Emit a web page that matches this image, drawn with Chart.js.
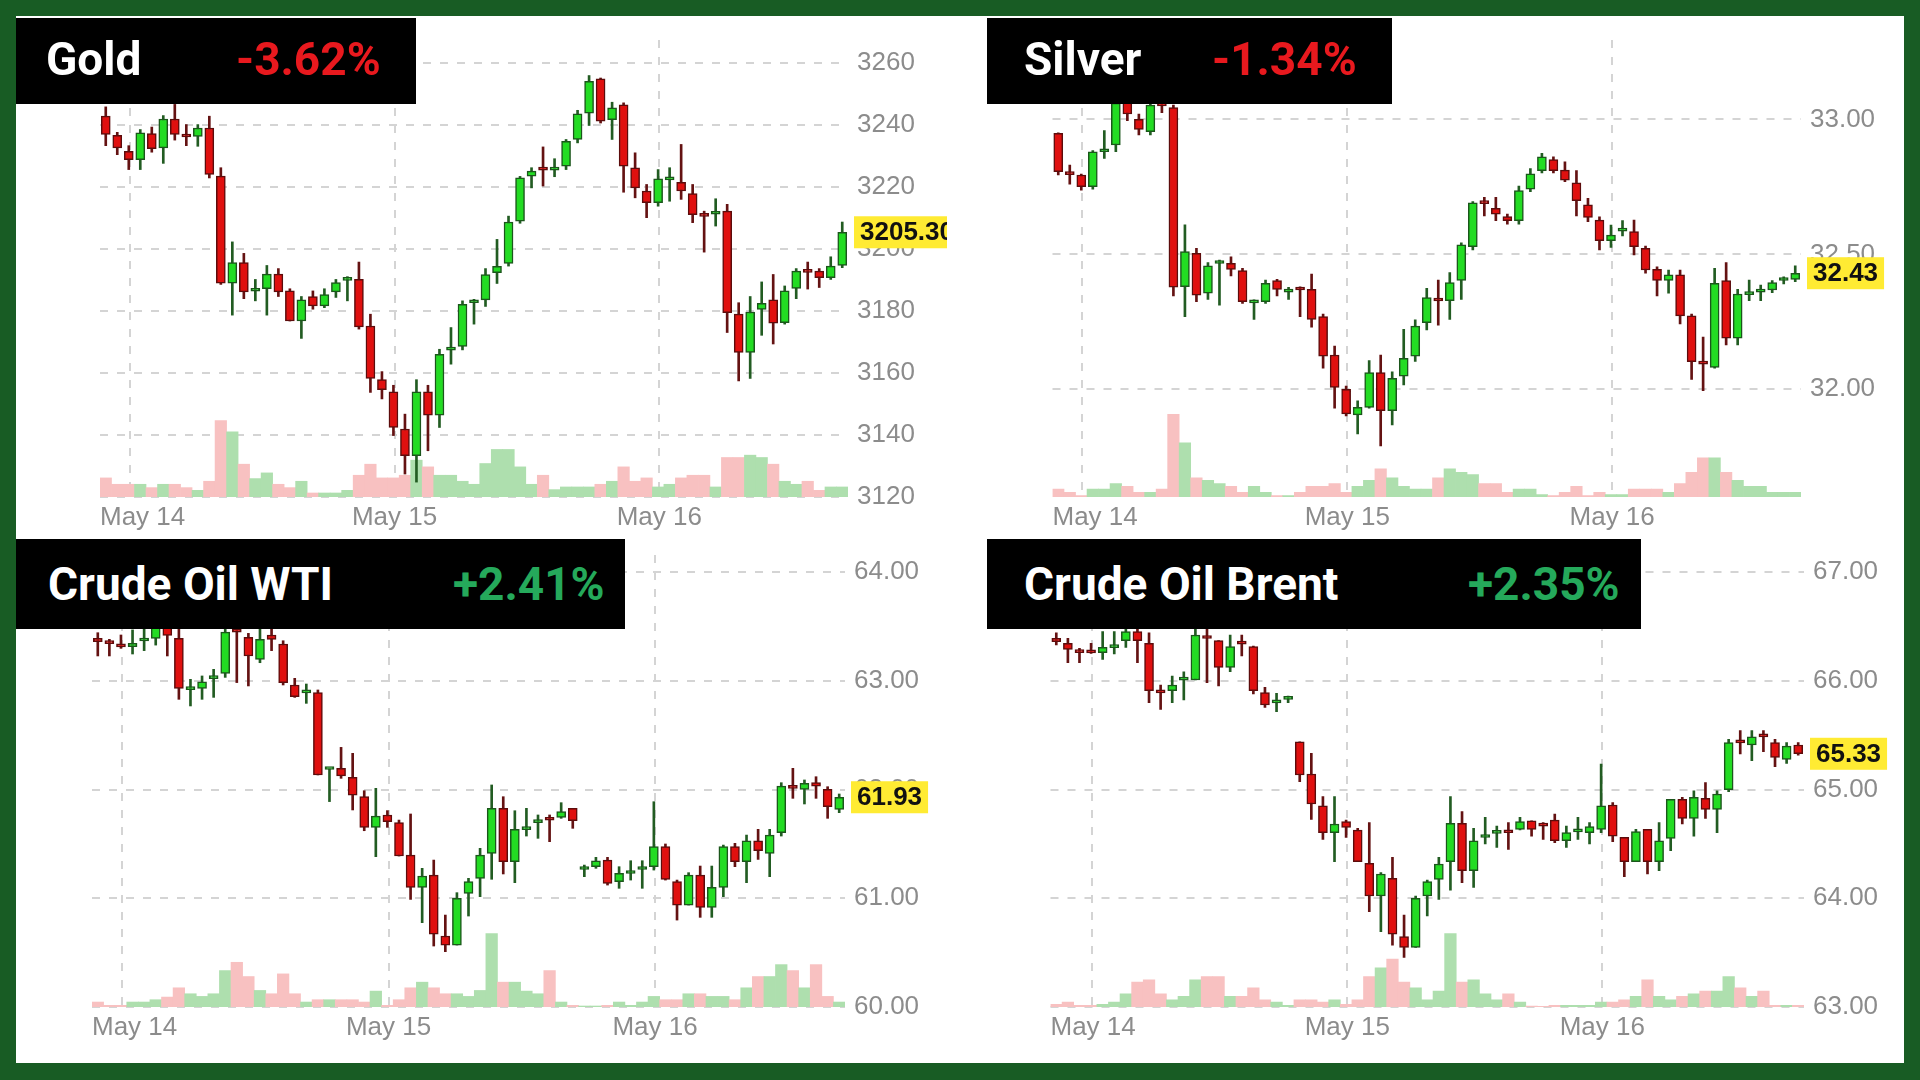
<!DOCTYPE html>
<html>
<head>
<meta charset="utf-8">
<title>Gold, Silver, WTI, Brent - May 14 to May 16</title>
<script src="https://cdn.jsdelivr.net/npm/chart.js@4.4.1/dist/chart.umd.min.js"></script>
<style>
html, body { margin: 0; padding: 0; }
body { position: relative; width: 1920px; height: 1080px; background: #185c24; overflow: hidden; }
#sheet { position: absolute; left: 16px; top: 16px; width: 1888px; height: 1047px; background: #fff; }
canvas { position: absolute; }
.tag { position: absolute; background: #000; }
.tag span { position: absolute; white-space: nowrap; font-family: Roboto, "Noto Sans", sans-serif; font-weight: 700; font-size: 46px; color: #fff; }
.tag .dn { color: #e8191e; }
.tag .up { color: #25a95b; }
</style>
</head>
<body>
<div id="sheet"></div>
<canvas id="goldChart" width="931" height="524" style="left:16px;top:16px"></canvas>
<canvas id="silverChart" width="917" height="524" style="left:987px;top:16px"></canvas>
<canvas id="wtiChart" width="931" height="523" style="left:16px;top:540px"></canvas>
<canvas id="brentChart" width="917" height="523" style="left:987px;top:540px"></canvas>

<div class="tag" style="left:16px;top:18px;width:400px;height:86px">
  <span style="left:30px;top:-2px;line-height:86px">Gold</span>
  <span class="dn" style="left:220px;top:-2px;line-height:86px">-3.62%</span>
</div>
<div class="tag" style="left:987px;top:18px;width:405px;height:86px">
  <span style="left:37px;top:-2px;line-height:86px">Silver</span>
  <span class="dn" style="left:225px;top:-2px;line-height:86px">-1.34%</span>
</div>
<div class="tag" style="left:16px;top:539px;width:609px;height:90px">
  <span style="left:32px;top:0;line-height:90px">Crude Oil WTI</span>
  <span class="up" style="left:437px;top:0;line-height:90px">+2.41%</span>
</div>
<div class="tag" style="left:987px;top:539px;width:654px;height:90px">
  <span style="left:37px;top:0;line-height:90px">Crude Oil Brent</span>
  <span class="up" style="left:481px;top:0;line-height:90px">+2.35%</span>
</div>

<script>
// hourly candles, May 14 - May 16
var dayLabels = ["May 14", "May 15", "May 16"];

var goldOpen = [3242.7,3236.5,3231.4,3228.7,3237.1,3232.5,3241.8,3236.1,3236.2,3238.9,
  3223.4,3188.9,3195.5,3186.3,3187.1,3191.8,3186.4,3176.7,3184.6,3181.6,
  3186.1,3189.8,3190.1,3175.1,3157.8,3153.9,3141.9,3133.3,3153.9,3146.4,
  3167.3,3168.5,3182.6,3183.5,3192.3,3195.3,3208.9,3223.4,3225.7,3225.3,
  3226.6,3235.2,3243.7,3254.7,3241.6,3246.4,3226.1,3218.6,3214.8,3222.2,
  3221.4,3217.8,3210.7,3211.1,3212.1,3178.9,3166.6,3180.4,3183.5,3176.2,
  3187.2,3192.7,3192.8,3190.7,3194.6];
var goldHigh = [3245.7,3237.5,3233.2,3238.4,3239.2,3242.9,3246.5,3240.0,3240.0,3242.7,
  3226.1,3202.2,3198.5,3190.1,3194.6,3193.6,3187.1,3184.6,3186.4,3187.1,
  3190.1,3191.0,3195.7,3178.9,3160.4,3156.0,3146.7,3157.8,3156.0,3167.6,
  3174.6,3183.2,3183.7,3193.6,3203.0,3210.5,3223.3,3226.1,3232.8,3229.0,
  3235.2,3244.6,3255.8,3255.0,3247.2,3247.0,3230.9,3220.7,3225.5,3226.1,
  3233.6,3220.7,3212.1,3216.1,3214.3,3182.6,3184.6,3189.3,3191.7,3188.0,
  3193.6,3195.7,3193.6,3197.4,3208.6];
var goldLow = [3233.2,3230.3,3225.5,3225.5,3231.1,3227.5,3235.0,3233.2,3233.0,3222.8,
  3188.5,3178.6,3183.9,3183.2,3178.6,3184.6,3176.7,3171.1,3180.5,3181.0,
  3184.3,3183.2,3174.1,3153.7,3151.6,3139.8,3127.4,3124.8,3134.9,3142.4,
  3162.8,3167.4,3175.7,3181.4,3188.8,3194.4,3208.2,3219.6,3220.2,3223.2,
  3225.5,3234.1,3239.7,3240.5,3235.2,3218.2,3216.4,3210.0,3213.7,3215.3,
  3215.9,3208.4,3198.9,3207.3,3173.0,3157.4,3158.2,3172.1,3169.3,3175.7,
  3183.9,3187.0,3187.5,3190.1,3193.9];
var goldClose = [3236.8,3232.5,3228.7,3237.3,3232.2,3241.8,3236.8,3236.0,3238.9,3223.9,
  3188.9,3195.5,3186.1,3186.5,3191.8,3186.1,3176.7,3183.5,3181.6,3185.2,
  3189.1,3190.1,3174.8,3158.2,3154.6,3142.4,3133.3,3153.9,3146.4,3166.0,
  3167.7,3182.1,3183.0,3191.7,3194.3,3208.6,3222.8,3225.0,3225.3,3225.7,
  3234.6,3243.5,3253.9,3241.1,3245.4,3226.6,3219.6,3214.8,3222.5,3222.5,
  3218.6,3211.0,3210.4,3211.5,3179.4,3166.6,3179.6,3182.4,3176.0,3186.4,
  3192.8,3192.4,3190.7,3194.4,3205.3];
var goldVolume = [57,38,38,38,28,38,38,28,20,47,
  228,195,98,55,72,38,28,47,12,12,
  12,20,65,98,57,57,65,110,90,65,
  65,47,38,100,142,142,90,38,65,22,
  30,30,30,38,47,90,47,57,30,38,
  57,65,65,30,118,118,125,118,98,47,
  38,47,20,30,30];
var goldTicks = [3120, 3140, 3160, 3180, 3200, 3220, 3240, 3260];
var goldDays = [2.1, 25.1, 48.1];

var silverOpen = [32.948,32.798,32.794,32.751,32.880,32.905,33.080,33.000,32.954,33.055,
  33.044,32.380,32.504,32.356,32.466,32.467,32.440,32.320,32.325,32.403,
  32.360,32.371,32.370,32.269,32.127,32.000,31.905,31.933,32.062,31.921,
  32.049,32.123,32.247,32.330,32.328,32.403,32.528,32.691,32.670,32.640,
  32.625,32.741,32.810,32.851,32.812,32.765,32.683,32.627,32.551,32.586,
  32.584,32.522,32.444,32.403,32.424,32.272,32.096,32.081,32.403,32.189,
  32.351,32.360,32.368,32.403,32.407];
var silverHigh = [32.950,32.831,32.797,32.884,32.958,33.080,33.100,33.020,33.070,33.070,
  33.053,32.609,32.522,32.469,32.479,32.491,32.448,32.331,32.405,32.407,
  32.378,32.380,32.427,32.279,32.160,32.012,31.957,32.106,32.127,32.065,
  32.222,32.257,32.374,32.405,32.432,32.543,32.695,32.711,32.711,32.649,
  32.753,32.818,32.874,32.861,32.843,32.810,32.707,32.639,32.608,32.625,
  32.627,32.531,32.454,32.442,32.442,32.279,32.193,32.448,32.469,32.370,
  32.405,32.386,32.403,32.417,32.457];
var silverLow = [32.794,32.760,32.738,32.741,32.855,32.880,32.995,32.942,32.942,33.025,
  32.346,32.269,32.325,32.333,32.312,32.420,32.318,32.259,32.318,32.346,
  32.333,32.269,32.230,32.078,31.930,31.901,31.835,31.930,31.790,31.868,
  32.016,32.103,32.220,32.238,32.259,32.333,32.516,32.642,32.625,32.612,
  32.612,32.732,32.802,32.802,32.769,32.642,32.621,32.516,32.526,32.568,
  32.498,32.430,32.346,32.356,32.242,32.037,31.995,32.078,32.164,32.164,
  32.328,32.328,32.358,32.390,32.399];
var silverClose = [32.806,32.795,32.751,32.880,32.883,33.060,33.020,32.963,33.053,33.050,
  32.378,32.510,32.349,32.457,32.469,32.444,32.325,32.323,32.393,32.370,
  32.363,32.368,32.259,32.123,32.007,31.909,31.933,32.062,31.921,32.041,
  32.115,32.234,32.340,32.327,32.395,32.535,32.691,32.688,32.649,32.625,
  32.736,32.798,32.861,32.810,32.775,32.699,32.637,32.551,32.571,32.589,
  32.528,32.442,32.403,32.424,32.272,32.102,32.093,32.393,32.189,32.353,
  32.354,32.363,32.395,32.406,32.430];
var silverVolume = [24,14,4,24,24,40,32,14,14,24,
  247,162,57,50,40,32,14,32,14,4,
  4,14,32,32,40,14,32,50,84,57,
  32,24,24,57,84,74,67,40,40,14,
  24,24,7,4,14,32,4,14,7,7,
  24,24,24,14,40,74,117,117,74,50,
  32,32,14,14,14];
var silverTicks = [32.00, 32.50, 33.00];
var silverDays = [2.1, 25.1, 48.1];

var wtiOpen = [63.392,63.348,63.318,63.316,63.368,63.392,63.500,63.392,62.920,62.932,
  63.022,63.070,63.470,63.401,63.199,63.423,63.340,62.963,62.890,62.892,
  62.185,62.196,62.113,61.935,61.653,61.767,61.696,61.398,61.101,61.214,
  60.653,60.570,61.046,61.184,61.414,61.828,61.337,61.632,61.696,61.722,
  61.745,61.828,61.265,61.291,61.352,61.153,61.228,61.265,61.291,61.475,
  61.153,60.938,61.214,60.917,61.101,61.475,61.337,61.530,61.414,61.604,
  62.014,62.003,62.064,62.003,61.819];
var wtiHigh = [63.444,63.383,63.423,63.470,63.480,63.520,63.530,63.475,63.015,63.046,
  63.107,63.480,63.520,63.438,63.480,63.480,63.370,63.024,62.972,62.917,
  62.190,62.389,62.334,61.990,62.012,61.807,61.720,61.776,61.276,61.352,
  60.846,61.052,61.184,61.460,62.043,61.935,61.806,61.828,61.767,61.767,
  61.880,61.828,61.306,61.377,61.377,61.291,61.346,61.346,61.889,61.500,
  61.168,61.236,61.297,61.297,61.490,61.506,61.582,61.635,61.635,62.064,
  62.196,62.089,62.119,62.027,61.960];
var wtiLow = [63.230,63.230,63.300,63.248,63.279,63.330,63.230,62.831,62.770,62.831,
  62.849,63.033,62.985,62.954,63.168,63.279,62.963,62.849,62.794,62.135,
  61.890,62.104,61.813,61.622,61.383,61.653,61.389,60.990,60.776,60.561,
  60.509,60.570,60.837,61.015,61.175,61.224,61.144,61.573,61.552,61.521,
  61.736,61.644,61.199,61.276,61.122,61.092,61.168,61.092,61.260,61.168,
  60.800,60.938,60.825,60.825,61.015,61.291,61.144,61.358,61.199,61.573,
  61.920,61.868,61.920,61.736,61.788];
var wtiClose = [63.362,63.344,63.314,63.346,63.373,63.500,63.420,62.932,62.925,62.993,
  63.027,63.450,63.450,63.230,63.383,63.383,62.984,62.856,62.894,62.135,
  62.189,62.126,61.950,61.653,61.757,61.705,61.389,61.101,61.205,60.671,
  60.570,61.000,61.153,61.398,61.828,61.337,61.635,61.637,61.720,61.718,
  61.797,61.714,61.269,61.346,61.138,61.230,61.231,61.268,61.475,61.175,
  60.938,61.214,60.917,61.101,61.475,61.337,61.530,61.438,61.582,62.033,
  62.011,62.058,62.033,61.843,61.930];
var wtiVolume = [15,5,5,15,15,22,30,58,40,32,
  40,110,135,92,50,40,100,40,15,22,
  22,22,22,15,48,5,22,58,75,58,
  40,40,32,50,222,75,75,48,40,110,
  15,5,3,3,5,15,5,15,32,22,
  22,40,40,32,32,22,58,92,92,128,
  110,58,128,32,15];
var wtiTicks = [60, 61, 62, 63, 64];
var wtiDays = [2.1, 25.1, 48.1];

var brentOpen = [66.392,66.346,66.285,66.262,66.260,66.307,66.371,66.454,66.346,65.894,
  65.911,66.007,66.009,66.394,66.371,66.125,66.342,66.316,65.892,65.799,
  65.831,65.441,65.144,64.850,64.604,64.705,64.628,64.322,64.021,64.184,
  63.647,63.549,64.021,64.175,64.337,64.690,64.254,64.560,64.597,64.606,
  64.635,64.714,64.667,64.720,64.530,64.612,64.604,64.635,64.859,64.561,
  64.337,64.635,64.337,64.552,64.911,64.736,64.920,64.819,65.000,65.434,
  65.411,65.489,65.432,65.279,65.411];
var brentHigh = [66.444,66.392,66.300,66.346,66.454,66.454,66.480,66.480,66.444,65.963,
  66.046,66.085,66.480,66.480,66.371,66.423,66.423,66.322,65.941,65.886,
  65.862,65.441,65.334,64.935,64.935,64.720,64.644,64.696,64.236,64.377,
  63.846,64.021,64.168,64.377,64.935,64.797,64.644,64.745,64.665,64.696,
  64.745,64.714,64.696,64.776,64.665,64.745,64.696,65.236,64.880,64.561,
  64.635,64.635,64.696,64.911,64.929,64.990,65.064,64.990,65.463,65.543,
  65.543,65.543,65.463,65.432,65.432];
var brentLow = [66.331,66.168,66.168,66.254,66.199,66.248,66.309,66.168,65.800,65.739,
  65.800,65.825,66.009,65.984,65.954,66.085,66.230,65.880,65.757,65.717,
  65.800,65.073,64.727,64.543,64.337,64.561,64.337,63.877,63.693,63.570,
  63.457,63.549,63.837,63.990,64.076,64.144,64.101,64.500,64.469,64.450,
  64.629,64.573,64.543,64.512,64.469,64.543,64.500,64.604,64.521,64.199,
  64.337,64.224,64.254,64.438,64.684,64.573,64.736,64.604,64.981,65.328,
  65.267,65.349,65.211,65.242,65.318];
var brentClose = [66.362,66.291,66.260,66.259,66.309,66.311,66.454,66.371,65.911,65.891,
  65.963,66.011,66.423,66.391,66.125,66.316,66.339,65.911,65.779,65.802,
  65.855,65.135,64.868,64.604,64.684,64.653,64.337,64.021,64.224,63.671,
  63.549,64.000,64.153,64.316,64.690,64.254,64.530,64.564,64.601,64.603,
  64.705,64.635,64.664,64.530,64.604,64.615,64.659,64.850,64.573,64.337,
  64.613,64.337,64.530,64.911,64.736,64.929,64.819,64.960,65.432,65.431,
  65.487,65.486,65.297,65.401,65.330];
var brentVolume = [8,15,5,5,8,15,40,75,82,40,
  22,32,82,92,92,32,32,58,22,15,
  5,22,22,15,22,8,22,92,118,145,
  75,58,22,48,222,75,82,40,22,40,
  15,3,2,5,5,5,5,15,15,22,
  32,82,32,22,32,40,48,48,92,58,
  32,48,5,5,5];
var brentTicks = [63, 64, 65, 66, 67];
var brentDays = [3.1, 25.1, 47.1];

Chart.defaults.font.family = '"Liberation Sans", Arial, sans-serif';
var gridColor = '#d4d4d4';
var tickColor = '#8c8c8c';
var volumeMax = 1365;

function noPadding(axis) {
  axis.paddingTop = 0;
  axis.paddingBottom = 0;
  axis.paddingLeft = 0;
  axis.paddingRight = 0;
}

function candlePanel(id, p) {
  var n = p.close.length;
  var up = p.close.map(function (c, i) { return c >= p.open[i]; });
  var bodies = [], wicks = [], vols = [];
  for (var i = 0; i < n; i++) {
    bodies.push({ x: i, y: [p.open[i], p.close[i]] });
    wicks.push({ x: i, y: [p.low[i], p.high[i]] });
    vols.push({ x: i, y: p.volume[i] });
  }

  // day labels (kept inside the plot on the left) + yellow last-price tag
  var extras = {
    id: 'extras' + id,
    afterDraw: function (chart) {
      var ctx = chart.ctx, area = chart.chartArea;
      var xs = chart.scales.x, ys = chart.scales.y;
      ctx.save();
      ctx.font = '26px "Liberation Sans", Arial, sans-serif';
      ctx.fillStyle = tickColor;
      ctx.textBaseline = 'middle';
      ctx.textAlign = 'left';
      p.days.forEach(function (d, k) {
        var w = ctx.measureText(dayLabels[k]).width;
        var x = Math.max(area.left, xs.getPixelForValue(d) - w / 2);
        ctx.fillText(dayLabels[k], x, area.bottom + 21);
      });
      var last = p.close[n - 1];
      var txt = last.toFixed(p.lastDigits);
      var y = ys.getPixelForValue(last);
      ctx.font = 'bold 26px "Liberation Sans", Arial, sans-serif';
      var tw = ctx.measureText(txt).width;
      ctx.fillStyle = '#ffeb33';
      ctx.fillRect(area.right + 6, y - 16, tw + 12, 32);
      ctx.fillStyle = '#111';
      ctx.fillText(txt, area.right + 12, y + 1);
      ctx.restore();
    }
  };

  return new Chart(document.getElementById(id), {
    type: 'bar',
    data: {
      datasets: [{
        label: 'body',
        data: bodies,
        yAxisID: 'y',
        order: 1,
        grouped: false,
        barThickness: 9,
        minBarLength: 3,
        borderWidth: 1.5,
        borderSkipped: false,
        backgroundColor: up.map(function (u) { return u ? '#23dc23' : '#e0100f'; }),
        borderColor: up.map(function (u) { return u ? '#1b561b' : '#5c0c0c'; })
      }, {
        label: 'wick',
        data: wicks,
        yAxisID: 'y',
        order: 2,
        grouped: false,
        barThickness: 2,
        borderWidth: 0,
        backgroundColor: up.map(function (u) { return u ? '#225c22' : '#641212'; })
      }, {
        label: 'volume',
        data: vols,
        yAxisID: 'vol',
        order: 3,
        grouped: false,
        barPercentage: 1,
        categoryPercentage: 1,
        borderWidth: 0,
        backgroundColor: up.map(function (u) { return u ? '#aedfae' : '#f8c1c1'; })
      }]
    },
    options: {
      responsive: false,
      animation: false,
      devicePixelRatio: 1,
      layout: { padding: { left: p.padLeft, top: p.padTop, right: 0, bottom: p.padBottom } },
      plugins: { legend: { display: false }, tooltip: { enabled: false } },
      scales: {
        x: {
          type: 'linear',
          min: -0.5,
          max: n - 0.5,
          offset: false,
          grid: { offset: false, color: gridColor, lineWidth: 2, drawTicks: false },
          border: { display: false, dash: [8, 9] },
          ticks: { display: false },
          afterBuildTicks: function (axis) { axis.ticks = p.days.map(function (v) { return { value: v }; }); },
          afterFit: function (axis) { axis.height = 0; noPadding(axis); }
        },
        y: {
          position: 'right',
          min: p.min,
          max: p.max,
          grid: { color: gridColor, lineWidth: 2, drawTicks: false },
          border: { display: false, dash: [8, 9] },
          ticks: {
            color: tickColor,
            font: { size: 26 },
            padding: 9,
            callback: function (v) { return Number(v).toFixed(p.digits); }
          },
          afterBuildTicks: function (axis) { axis.ticks = p.ticks.map(function (v) { return { value: v }; }); },
          afterFit: function (axis) { axis.width = p.axisWidth; noPadding(axis); }
        },
        vol: { display: false, min: 0, max: volumeMax }
      }
    },
    plugins: [extras]
  });
}

candlePanel('goldChart', {
  open: goldOpen, high: goldHigh, low: goldLow, close: goldClose, volume: goldVolume,
  ticks: goldTicks, days: goldDays, digits: 0, lastDigits: 2, min: 3120, max: 3267.25,
  padLeft: 84, padTop: 24, padBottom: 43, axisWidth: 99
});
candlePanel('silverChart', {
  open: silverOpen, high: silverHigh, low: silverLow, close: silverClose, volume: silverVolume,
  ticks: silverTicks, days: silverDays, digits: 2, lastDigits: 2, min: 31.601, max: 33.294,
  padLeft: 65.5, padTop: 24, padBottom: 43, axisWidth: 103
});
candlePanel('wtiChart', {
  open: wtiOpen, high: wtiHigh, low: wtiLow, close: wtiClose, volume: wtiVolume,
  ticks: wtiTicks, days: wtiDays, digits: 2, lastDigits: 2, min: 60, max: 64.159,
  padLeft: 76, padTop: 15, padBottom: 56, axisWidth: 102
});
candlePanel('brentChart', {
  open: brentOpen, high: brentHigh, low: brentLow, close: brentClose, volume: brentVolume,
  ticks: brentTicks, days: brentDays, digits: 2, lastDigits: 2, min: 63, max: 67.159,
  padLeft: 63.5, padTop: 15, padBottom: 56, axisWidth: 100
});
</script>
</body>
</html>
